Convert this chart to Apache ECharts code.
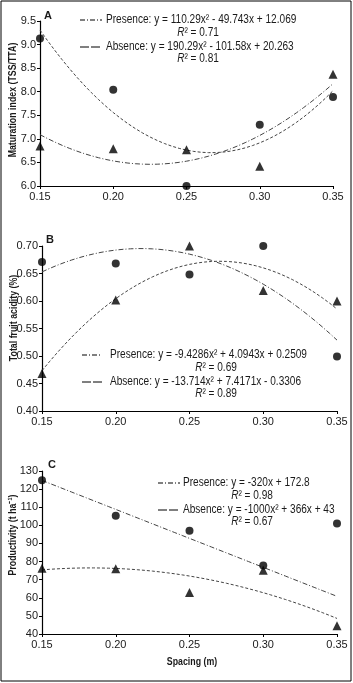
<!DOCTYPE html>
<html>
<head>
<meta charset="utf-8">
<script src="https://cdn.jsdelivr.net/npm/echarts@6/dist/echarts.min.js"></script>
<style>
  html, body { margin: 0; padding: 0; background: #fff; }
  #chart { width: 353px; height: 683px; }
</style>
</head>
<body>
<div id="chart"></div>
<script>
// spacing between plants (m)
const spacing = [0.15, 0.20, 0.25, 0.30, 0.35];

// A: maturation index (TSS/TTA)
const maturCircle = [9.13, 8.04, 6.00, 7.30, 7.89];
const maturTriangle = [6.85, 6.79, 6.77, 6.42, 8.37];
// B: total fruit acidity (%)
const acidCircle = [0.671, 0.668, 0.648, 0.700, 0.499];
const acidTriangle = [0.468, 0.602, 0.700, 0.619, 0.600];
// C: productivity (t/ha)
const prodCircle = [124.9, 105.3, 97.0, 77.8, 101.0];
const prodTriangle = [76.3, 76.0, 62.9, 75.2, 44.6];

// fitted trend equations printed on the chart: [a, b, c] for a*x^2 + b*x + c
const maturPresence = [110.29, -49.743, 12.069];
const maturAbsence = [190.29, -101.58, 20.263];
const acidPresence = [-9.4286, 4.0943, 0.2509];
const acidAbsence = [-13.714, 7.4171, -0.3306];
const prodPresence = [0, -320, 172.8];
const prodAbsence = [-1000, 366, 43];

const legendA = ['Presence: y = 110.29x² - 49.743x + 12.069', '0.71', 'Absence: y = 190.29x² - 101.58x + 20.263', '0.81'];
const legendB = ['Presence: y = -9.4286x² + 4.0943x + 0.2509', '0.69', 'Absence: y = -13.714x² + 7.4171x - 0.3306', '0.89'];
const legendC = ['Presence: y = -320x + 172.8', '0.98', 'Absence: y = -1000x² + 366x + 43', '0.67'];

const yTitles = ['Maturation index (TSS/TTA)', 'Total fruit acidity (%)', 'Productivity (t ha⁻¹)'];
const xTitle = 'Spacing (m)';

// no narrow font installed, so squeeze regular text horizontally
const FONT = "'Liberation Sans', Arial, sans-serif";
const SQUEEZE = 0.84;
const INK = '#1a1a1a';
const PRES_DASH = [5, 2, 1, 2];
const ABS_DASH = [3, 2];

const chart = echarts.init(document.getElementById('chart'));

function trend(coef) {
  const pts = [];
  for (let i = 0; i <= 40; i++) {
    const x = 0.15 + i * 0.005;
    pts.push([x, coef[0] * x * x + coef[1] * x + coef[2]]);
  }
  return pts;
}

function pairs(ys) {
  return spacing.map((x, i) => [x, ys[i]]);
}

function xAxis(gridIndex) {
  return {
    type: 'value', gridIndex, min: 0.15, max: 0.35, interval: 0.05,
    axisLine: { lineStyle: { color: '#000', width: 1.2 } },
    axisTick: { length: 3, lineStyle: { color: '#000' } },
    axisLabel: { formatter: v => v.toFixed(2), fontFamily: FONT, fontSize: 11, color: INK, margin: 5 },
    splitLine: { show: false },
  };
}

function yAxis(gridIndex, min, max, interval, digits) {
  return {
    type: 'value', gridIndex, min, max, interval,
    axisLine: { show: true, lineStyle: { color: '#000', width: 1.2 } },
    axisTick: { show: true, length: 3, lineStyle: { color: '#000' } },
    axisLabel: { formatter: v => v.toFixed(digits), fontFamily: FONT, fontSize: 11, color: INK, margin: 4 },
    splitLine: { show: false },
  };
}

function scatter(idx, ys, symbol, size) {
  return {
    type: 'scatter', xAxisIndex: idx, yAxisIndex: idx, symbol, symbolSize: size,
    itemStyle: { color: '#000' }, z: 5, data: pairs(ys),
  };
}

function curve(idx, coef, dash) {
  return {
    type: 'line', xAxisIndex: idx, yAxisIndex: idx, showSymbol: false, silent: true,
    lineStyle: { color: '#444', width: 1, type: dash }, data: trend(coef),
  };
}

function legendBlock(texts, x0, x1, tx, y, rx) {
  const line = (yy, dash) => ({
    type: 'line', shape: { x1: x0, y1: yy, x2: x1, y2: yy },
    style: { stroke: '#000', lineWidth: 1, lineDash: dash },
  });
  const eq = (yy, t) => ({
    type: 'text', x: tx, y: yy, scaleX: SQUEEZE,
    style: { text: t, verticalAlign: 'middle', font: '12px ' + FONT, fill: INK },
  });
  const r2 = (yy, val) => ({
    type: 'text', x: rx, y: yy, scaleX: SQUEEZE,
    style: {
      text: '{i|R}² = ' + val, align: 'center', verticalAlign: 'middle',
      font: '12px ' + FONT, fill: INK,
      rich: { i: { fontStyle: 'italic', fontFamily: FONT, fontSize: 12, fill: INK } },
    },
  });
  return [
    line(y, PRES_DASH), eq(y, texts[0]), r2(y + 13, texts[1]),
    line(y + 27, [9, 2]), eq(y + 27, texts[2]), r2(y + 39, texts[3]),
  ];
}

function letter(t, x, y) {
  return { type: 'text', x, y, style: { text: t, font: 'bold 11px ' + FONT, fill: INK } };
}

function yTitle(t, x, y) {
  return {
    type: 'text', x, y, rotation: Math.PI / 2, scaleX: 0.8,
    style: { text: t, align: 'center', verticalAlign: 'middle', font: 'bold 11px ' + FONT, fill: INK },
  };
}

chart.setOption({
  animation: false,
  backgroundColor: '#fff',
  grid: [
    { left: 40, right: 20, top: 21, height: 165 },
    { left: 42, right: 16, top: 246, height: 165 },
    { left: 42, right: 16, top: 471, height: 163 },
  ],
  xAxis: [xAxis(0), xAxis(1), xAxis(2)],
  yAxis: [
    yAxis(0, 6, 9.5, 0.5, 1),
    yAxis(1, 0.4, 0.7, 0.05, 2),
    yAxis(2, 40, 130, 10, 0),
  ],
  series: [
    curve(0, maturPresence, PRES_DASH),
    curve(0, maturAbsence, ABS_DASH),
    scatter(0, maturCircle, 'circle', 8),
    scatter(0, maturTriangle, 'triangle', 9),
    curve(1, acidPresence, PRES_DASH),
    curve(1, acidAbsence, ABS_DASH),
    scatter(1, acidCircle, 'circle', 8),
    scatter(1, acidTriangle, 'triangle', 9),
    curve(2, prodPresence, PRES_DASH),
    curve(2, prodAbsence, ABS_DASH),
    scatter(2, prodCircle, 'circle', 8),
    scatter(2, prodTriangle, 'triangle', 9),
  ],
  graphic: [
    { type: 'rect', shape: { x: 1, y: 1, width: 350, height: 680 }, style: { fill: 'none', stroke: '#000', lineWidth: 1 } },
    letter('A', 44, 10),
    letter('B', 46, 234),
    letter('C', 48, 459),
    yTitle(yTitles[0], 13, 100),
    yTitle(yTitles[1], 14, 318),
    yTitle(yTitles[2], 13, 535),
    {
      type: 'text', x: 192, y: 662, scaleX: 0.8,
      style: { text: xTitle, align: 'center', verticalAlign: 'middle', font: 'bold 11px ' + FONT, fill: INK },
    },
    ...legendBlock(legendA, 80, 102, 106, 20, 198),
    ...legendBlock(legendB, 82, 102, 110, 355, 216),
    ...legendBlock(legendC, 158, 180, 183, 483, 252),
  ],
});
</script>
</body>
</html>
